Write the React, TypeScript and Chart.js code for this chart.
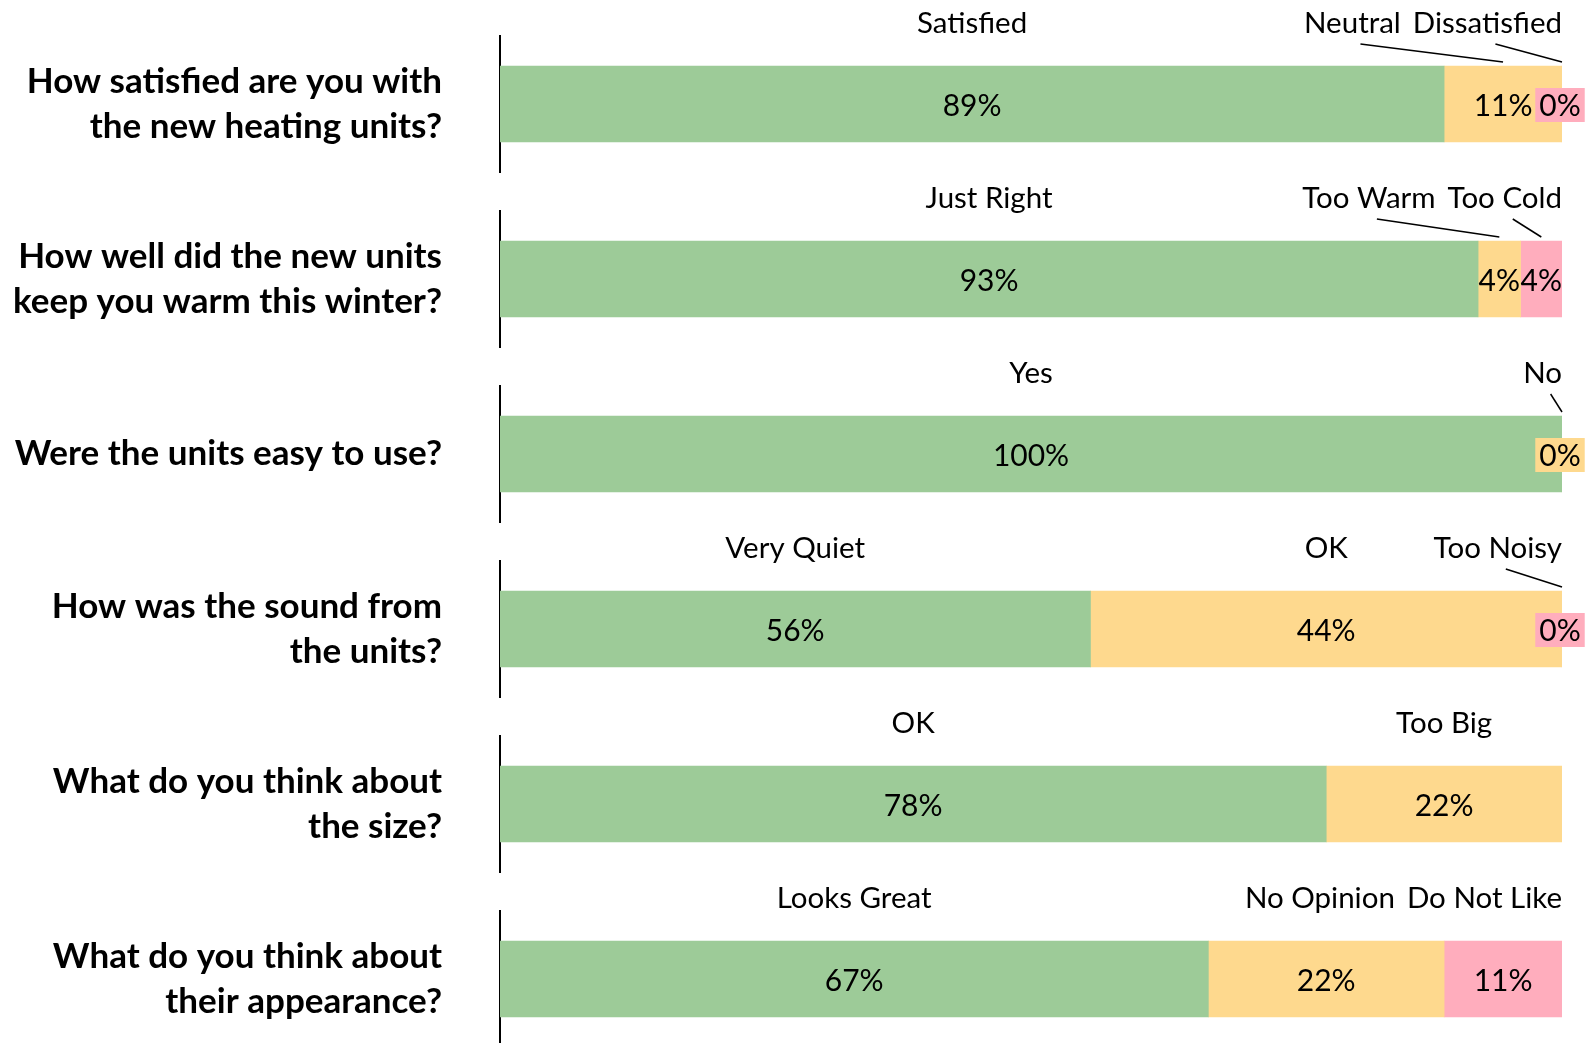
import React, { useEffect, useRef } from "react";
import { Chart, registerables } from "chart.js";

Chart.register(...registerables);

const questions: (string | string[])[] = [
  ["How satisfied are you with", "the new heating units?"],
  ["How well did the new units", "keep you warm this winter?"],
  "Were the units easy to use?",
  ["How was the sound from", "the units?"],
  ["What do you think about", "the size?"],
  ["What do you think about", "their appearance?"],
];

const responseNames: string[][] = [
  ["Satisfied", "Neutral", "Dissatisfied"],
  ["Just Right", "Too Warm", "Too Cold"],
  ["Yes", "No"],
  ["Very Quiet", "OK", "Too Noisy"],
  ["OK", "Too Big"],
  ["Looks Great", "No Opinion", "Do Not Like"],
];

const responseValues: number[][] = [
  [88.9, 11.1, 0],
  [92.1, 4.0, 3.9],
  [100, 0],
  [55.6, 44.4, 0],
  [77.8, 22.2],
  [66.7, 22.2, 11.1],
];

const percentLabels: string[][] = [
  ["89%", "11%", "0%"],
  ["93%", "4%", "4%"],
  ["100%", "0%"],
  ["56%", "44%", "0%"],
  ["78%", "22%"],
  ["67%", "22%", "11%"],
];

const segmentColors = ["#9DCB98", "#FED98E", "#FFADBD"];

const FONT = "Lato, 'Open Sans', sans-serif";
const ROW_H = 175;
const W = 1585;
const H = 1043;
const AXIS_X = 500;
const HEAD_SIZE = 29.5;
const PCT_SIZE = 30;

const labelPlugin = {
  id: "segLabels",
  afterDatasetsDraw(chart: any) {
    const ctx: CanvasRenderingContext2D = chart.ctx;
    const area = chart.chartArea;
    const rowIdx: number = chart.options.plugins.segLabels.row;
    const segs = chart.data.datasets.map((ds: any, j: number) => {
      const el = chart.getDatasetMeta(j).data[0];
      const p = el.getProps(["x", "base", "y", "height"], true);
      return {
        start: Math.min(p.x, p.base),
        end: Math.max(p.x, p.base),
        y: p.y,
        height: p.height,
        value: ds.data[0] as number,
        name: ds.label as string,
        color: ds.backgroundColor as string,
        text: percentLabels[rowIdx][j],
      };
    });
    ctx.save();
    ctx.textAlign = "center";
    ctx.textBaseline = "middle";
    // percentage labels
    ctx.font = `${PCT_SIZE}px ${FONT}`;
    segs.forEach((s: any) => {
      const cx = (s.start + s.end) / 2;
      const w = ctx.measureText(s.text).width;
      const empty = s.value < 0.5;
      if (empty) {
        ctx.fillStyle = s.color;
        ctx.fillRect(cx - w / 2 - 6, s.y - 16, w + 8, 34);
      }
      ctx.fillStyle = "#000";
      ctx.fillText(s.text, cx - (empty ? 2 : 0), s.y + 2);
    });
    // header labels, placed right to left
    ctx.font = `${HEAD_SIZE}px ${FONT}`;
    let limit = area.right;
    const gap = 12;
    const placed: any[] = [];
    for (let j = segs.length - 1; j >= 0; j--) {
      const s = segs[j];
      const cx = (s.start + s.end) / 2;
      const w = ctx.measureText(s.name).width;
      const right = Math.min(cx + w / 2, limit);
      const left = right - w;
      const center = left + w / 2;
      limit = left - gap;
      placed.push({ s, cx, center, w });
    }
    placed.forEach(({ s, cx, center, w }) => {
      const top = s.y - s.height / 2;
      ctx.fillStyle = "#000";
      ctx.fillText(s.name, center, top - 43);
      if (Math.abs(center - cx) > 0.2 * w) {
        ctx.strokeStyle = "#000";
        ctx.lineWidth = 1.5;
        ctx.beginPath();
        ctx.moveTo(center + 8, top - 22);
        ctx.lineTo(cx, top - 4);
        ctx.stroke();
      }
    });
    ctx.restore();
  },
};

function Row({ index }: { index: number }) {
  const ref = useRef<HTMLCanvasElement | null>(null);
  useEffect(() => {
    if (!ref.current) return;
    const names = responseNames[index];
    const values = responseValues[index];
    const chart = new Chart(ref.current, {
      type: "bar",
      data: {
        labels: [questions[index]],
        datasets: names.map((n, j) => ({
          label: n,
          data: [values[j]],
          backgroundColor: segmentColors[j],
          borderWidth: 0,
          barThickness: 76,
        })),
      },
      options: {
        indexAxis: "y",
        animation: false,
        responsive: false,
        devicePixelRatio: 1,
        layout: { padding: { top: 36, right: W - 1562, bottom: 3, left: 0 } },
        plugins: {
          legend: { display: false },
          tooltip: { enabled: false },
          segLabels: { row: index },
        },
        scales: {
          x: { type: "linear", min: 0, max: 100, stacked: true, display: false },
          y: {
            type: "category",
            stacked: true,
            grid: { display: false, drawTicks: false },
            border: { display: true, color: "#000", width: 2 },
            ticks: {
              color: "#000",
              padding: 58,
              font: { family: FONT, size: 35, weight: "bold", lineHeight: 45.5 / 35 },
            },
            afterFit: (scale: any) => {
              scale.width = AXIS_X;
              scale.paddingTop = 0;
              scale.paddingBottom = 0;
            },
          },
        },
      } as any,
      plugins: [labelPlugin],
    });
    return () => chart.destroy();
  }, [index]);
  return (
    <canvas
      ref={ref}
      width={W}
      height={ROW_H}
      style={{ position: "absolute", left: 0, top: index * ROW_H, width: W, height: ROW_H }}
    />
  );
}

export default function App() {
  useEffect(() => {
    document.documentElement.style.overflow = "hidden";
    document.body.style.margin = "0";
  }, []);
  return (
    <div
      style={{
        position: "absolute",
        left: 0,
        top: 0,
        width: W,
        height: H,
        overflow: "hidden",
        background: "#fff",
      }}
    >
      {questions.map((_, i) => (
        <Row key={i} index={i} />
      ))}
    </div>
  );
}
